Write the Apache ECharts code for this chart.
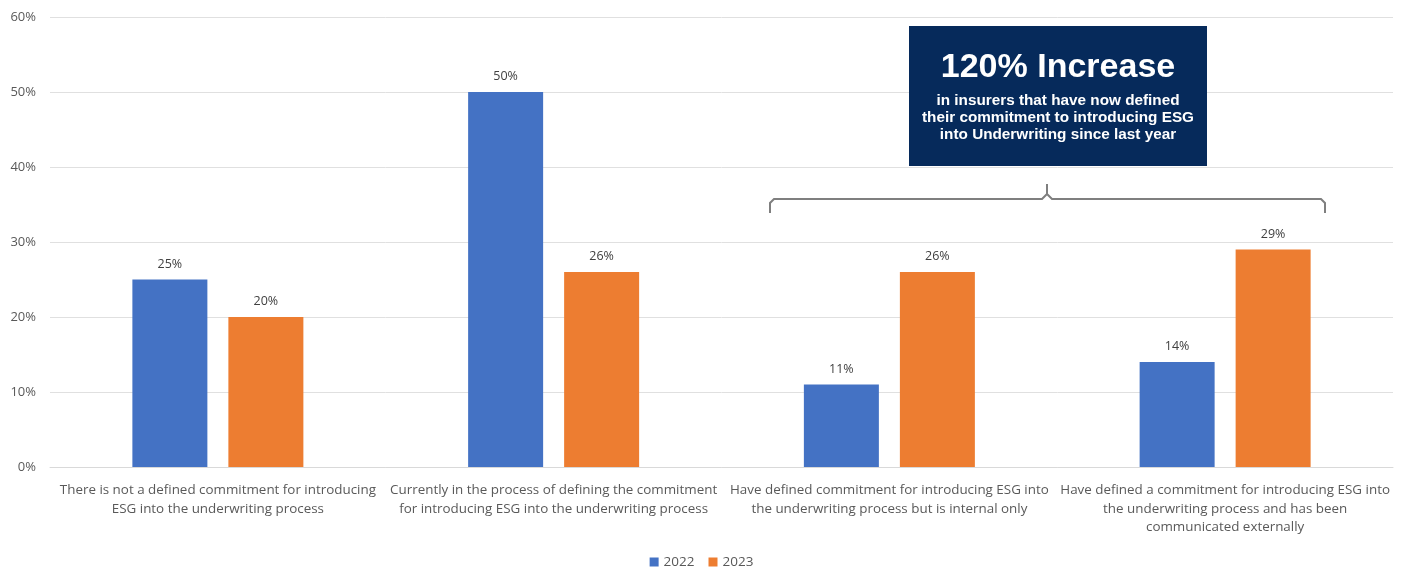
<!DOCTYPE html>
<html>
<head>
<meta charset="utf-8">
<script src="https://cdn.jsdelivr.net/npm/echarts@6/dist/echarts.min.js"></script>
<style>
  html, body { margin: 0; padding: 0; background: #fff; }
  #chart { width: 1403px; height: 567px; }
</style>
</head>
<body>
<div id="chart"></div>
<script>
const categories = [
  'There is not a defined commitment for introducing\nESG into the underwriting process',
  'Currently in the process of defining the commitment\nfor introducing ESG into the underwriting process',
  'Have defined commitment for introducing ESG into\nthe underwriting process but is internal only',
  'Have defined a commitment for introducing ESG into\nthe underwriting process and has been\ncommunicated externally'
];
const values2022 = [25, 50, 11, 14];
const values2023 = [20, 26, 26, 29];
const seriesNames = ['2022', '2023'];

const FONT = '"Open Sans", sans-serif';

const chart = echarts.init(document.getElementById('chart'));

const labelStyle = {
  show: true,
  position: 'top',
  distance: 9,
  formatter: p => p.value + '%',
  fontFamily: FONT,
  fontSize: 12.5,
  color: '#404040'
};

chart.setOption({
  animation: false,
  grid: { left: 50, right: 10, top: 17, bottom: 100, containLabel: false },
  legend: {
    data: seriesNames,
    top: 550,
    left: 'center',
    itemWidth: 9,
    itemHeight: 9,
    itemGap: 14,
    icon: 'rect',
    textStyle: { fontFamily: FONT, fontSize: 13.5, color: '#595959' }
  },
  xAxis: {
    type: 'category',
    data: categories,
    axisTick: { show: false },
    axisLine: { lineStyle: { color: '#d9d9d9' } },
    axisLabel: {
      interval: 0,
      margin: 14,
      fontFamily: FONT,
      fontSize: 13.4,
      lineHeight: 18.5,
      color: '#595959'
    }
  },
  yAxis: {
    type: 'value',
    min: 0,
    max: 60,
    interval: 10,
    axisLabel: {
      formatter: '{value}%',
      fontFamily: FONT,
      fontSize: 13,
      color: '#595959',
      margin: 14
    },
    splitLine: { lineStyle: { color: '#e0e0e0' } }
  },
  series: [
    {
      name: seriesNames[0],
      type: 'bar',
      data: values2022,
      barWidth: 75,
      barGap: '28%',
      itemStyle: { color: '#4472C4' },
      label: labelStyle
    },
    {
      name: seriesNames[1],
      type: 'bar',
      data: values2023,
      barWidth: 75,
      itemStyle: { color: '#ED7D31' },
      label: labelStyle
    }
  ]
});

// Callout box and brace grouping the two "defined commitment" categories
chart.setOption({
  graphic: [
    {
      type: 'rect',
      shape: { x: 909, y: 26, width: 298, height: 140 },
      style: { fill: '#062a5b' },
      z: 100
    },
    {
      type: 'text',
      x: 1058, y: 68,
      style: {
        text: '120% Increase',
        fill: '#fff',
        font: 'bold 34px "Liberation Sans", Arial, sans-serif',
        align: 'center',
        verticalAlign: 'middle'
      },
      z: 101
    },
    {
      type: 'text',
      x: 1058, y: 118,
      style: {
        text: 'in insurers that have now defined\ntheir commitment to introducing ESG\ninto Underwriting since last year',
        fill: '#fff',
        font: 'bold 15.3px "Liberation Sans", Arial, sans-serif',
        lineHeight: 17,
        align: 'center',
        verticalAlign: 'middle'
      },
      z: 101
    },
    {
      type: 'polyline',
      shape: {
        points: [[770, 213], [770, 203], [774, 199], [1042, 199], [1047, 194], [1047, 184],
                 [1047, 194], [1052, 199], [1321, 199], [1325, 203], [1325, 213]]
      },
      style: { stroke: '#7f7f7f', lineWidth: 2, fill: null },
      z: 100
    }
  ]
});
</script>
</body>
</html>
